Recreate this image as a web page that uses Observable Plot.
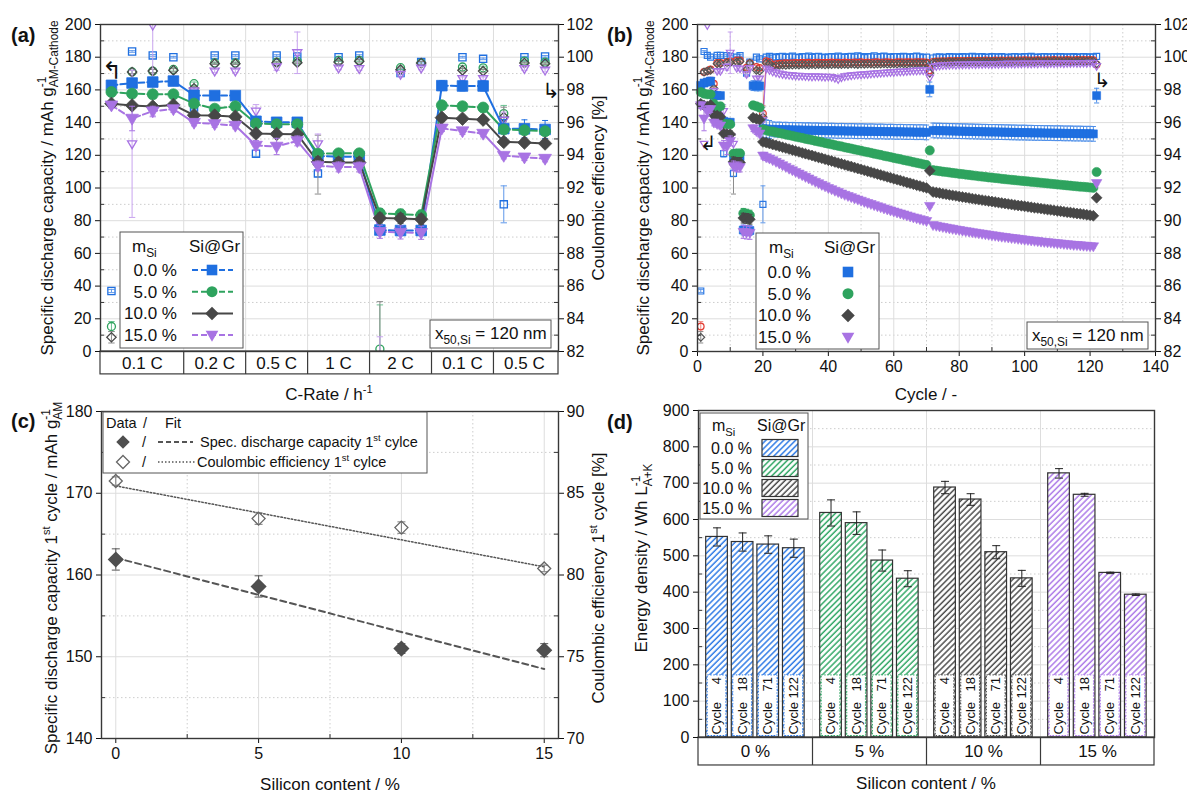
<!DOCTYPE html>
<html><head><meta charset="utf-8">
<script src="https://cdn.jsdelivr.net/npm/d3@7"></script>
<script src="https://cdn.jsdelivr.net/npm/@observablehq/plot@0.6"></script>
<style>
html,body{margin:0;padding:0;background:#fff;overflow:hidden;}
#fig{position:relative;width:1187px;height:794px;overflow:hidden;background:#fff;}
#fig svg{position:absolute;max-width:none;}
</style></head><body><div id="fig"></div>
<script>
// ================= DATA =================
const seriesNames = ["0.0 %", "5.0 %", "10.0 %", "15.0 %"];
const rateLabels = ["0.1 C", "0.2 C", "0.5 C", "1 C", "2 C", "0.1 C", "0.5 C"];
const rateGroupSizes = [4, 3, 3, 3, 3, 3, 3];

// specific discharge capacity (mAh/g), cycles 1..122 (10 per row)
const cap00 = [
  162.8, 164.2, 164.8, 165.4, 156.7, 156.5, 156.5, 140.8, 140.2, 140.2,
  119.5, 119.2, 119.0, 74.3, 74.0, 74.0, 162.6, 162.4, 162.4, 136.3,
  136.2, 135.8, 135.9, 135.7, 135.8, 135.6, 135.7, 135.5, 135.6, 135.4,
  135.5, 135.4, 135.3, 135.4, 135.2, 135.3, 135.2, 135.1, 135.2, 135.0,
  135.1, 135.0, 134.9, 135.0, 134.9, 134.8, 134.9, 134.8, 134.7, 134.8,
  134.7, 134.6, 134.7, 134.6, 134.5, 134.6, 134.5, 134.4, 134.5, 134.4,
  134.3, 134.4, 134.3, 134.2, 134.3, 134.2, 134.1, 134.2, 134.1, 134.0,
  160.3, 135.2, 135.1, 135.1, 135.0, 135.0, 134.9, 134.9, 134.8, 134.8,
  134.7, 134.7, 134.6, 134.6, 134.5, 134.5, 134.4, 134.4, 134.3, 134.3,
  134.3, 134.2, 134.2, 134.1, 134.1, 134.0, 134.0, 133.9, 133.9, 133.9,
  133.8, 133.8, 133.7, 133.7, 133.7, 133.6, 133.6, 133.6, 133.5, 133.5,
  133.5, 133.4, 133.4, 133.4, 133.3, 133.3, 133.3, 133.2, 133.2, 133.2,
  133.1, 156.5];
const cap05 = [
  158.7, 157.7, 157.3, 157.3, 151.6, 148.5, 150.0, 139.4, 139.0, 139.0,
  121.0, 121.2, 121.2, 84.5, 84.0, 83.4, 150.6, 150.0, 149.2, 135.8,
  135.3, 134.7, 134.5, 134.0, 133.6, 133.2, 132.7, 132.3, 131.9, 131.4,
  131.0, 130.6, 130.1, 129.7, 129.3, 128.8, 128.4, 128.0, 127.5, 127.1,
  126.7, 126.2, 125.8, 125.4, 124.9, 124.5, 124.1, 123.6, 123.2, 122.8,
  122.3, 121.9, 121.5, 121.0, 120.6, 120.2, 119.7, 119.3, 118.9, 118.4,
  118.0, 117.6, 117.1, 116.7, 116.3, 115.8, 115.4, 115.0, 114.5, 114.1,
  123.0, 110.9, 110.6, 110.3, 110.0, 109.8, 109.5, 109.2, 109.0, 108.7,
  108.5, 108.2, 108.0, 107.7, 107.5, 107.2, 107.0, 106.8, 106.5, 106.3,
  106.1, 105.9, 105.6, 105.4, 105.2, 105.0, 104.8, 104.6, 104.4, 104.2,
  104.0, 103.8, 103.6, 103.4, 103.2, 103.0, 102.8, 102.6, 102.4, 102.2,
  102.0, 101.8, 101.6, 101.4, 101.2, 101.0, 100.8, 100.7, 100.5, 100.3,
  100.1, 109.8];
const cap10 = [
  151.5, 150.5, 149.8, 150.8, 144.5, 144.3, 143.6, 133.3, 133.0, 132.9,
  116.0, 115.6, 115.6, 81.6, 81.4, 80.9, 143.0, 142.4, 141.8, 128.2,
  127.8, 127.2, 126.6, 126.1, 125.5, 124.9, 124.4, 123.8, 123.2, 122.7,
  122.1, 121.5, 121.0, 120.4, 119.9, 119.3, 118.7, 118.2, 117.6, 117.0,
  116.5, 115.9, 115.3, 114.8, 114.2, 113.6, 113.1, 112.5, 111.9, 111.4,
  110.8, 110.2, 109.7, 109.1, 108.5, 108.0, 107.4, 106.8, 106.3, 105.7,
  105.1, 104.6, 104.0, 103.4, 102.9, 102.3, 101.7, 101.2, 100.6, 100.1,
  110.5, 97.6, 97.2, 96.9, 96.5, 96.2, 95.8, 95.5, 95.2, 94.8,
  94.5, 94.2, 93.9, 93.5, 93.2, 92.9, 92.6, 92.3, 92.0, 91.7,
  91.4, 91.1, 90.8, 90.5, 90.2, 89.9, 89.6, 89.3, 89.1, 88.8,
  88.5, 88.2, 87.9, 87.7, 87.4, 87.1, 86.8, 86.6, 86.3, 86.0,
  85.8, 85.5, 85.2, 85.0, 84.7, 84.4, 84.2, 83.9, 83.6, 83.3,
  83.0, 94.0];
const cap15 = [
  150.6, 142.5, 147.0, 148.3, 140.0, 139.2, 138.2, 126.0, 125.4, 128.8,
  113.5, 112.9, 112.8, 73.2, 72.8, 72.6, 136.5, 134.8, 133.3, 119.8,
  118.8, 118.0, 117.0, 116.0, 115.0, 113.9, 112.9, 111.8, 110.8, 109.8,
  108.8, 107.8, 106.8, 105.8, 104.8, 103.8, 102.9, 101.9, 101.0, 100.0,
  99.2, 98.3, 97.5, 96.6, 95.8, 95.1, 94.4, 93.6, 92.9, 92.2,
  91.5, 90.8, 90.2, 89.5, 88.8, 88.2, 87.5, 86.9, 86.2, 85.6,
  85.0, 84.4, 83.8, 83.2, 82.6, 82.0, 81.5, 80.9, 80.4, 79.8,
  89.0, 77.3, 76.9, 76.5, 76.1, 75.7, 75.3, 75.0, 74.6, 74.3,
  73.9, 73.6, 73.3, 72.9, 72.6, 72.3, 72.0, 71.7, 71.4, 71.1,
  70.8, 70.5, 70.2, 70.0, 69.7, 69.4, 69.2, 68.9, 68.7, 68.4,
  68.2, 67.9, 67.7, 67.5, 67.2, 67.0, 66.8, 66.6, 66.4, 66.2,
  66.0, 65.8, 65.6, 65.4, 65.2, 65.1, 64.9, 64.7, 64.6, 64.4,
  64.3, 103.0];

// Coulombic efficiency (%), cycles 1..122 (null = not shown)
const ce00 = [
  85.7, 100.35, 100.11, 100.0, 96.92, 100.11, 100.11, 94.1, 100.1, 100.05,
  92.89, 100.0, 100.1, null, 99.03, 99.7, null, 100.0, 99.9, 91.0,
  100.0, 100.05, 100.02, 99.98, 100.03, 100.05, 99.99, 100.02, 100.06, 100.01,
  99.98, 100.04, 100.02, 100.07, 99.99, 100.03, 100.05, 100.01, 99.97, 100.02,
  100.04, 100.0, 100.06, 100.02, 99.99, 100.03, 100.05, 100.01, 100.08, 100.03,
  99.98, 100.04, 100.02, 100.09, 100.01, 100.03, 100.06, 100.02, 99.99, 100.04,
  100.03, 100.01, 100.05, 100.02, 100.0, 100.04, 100.06, 100.02, 99.98, 100.01,
  99.45, 99.95, 100.0, 100.02, 99.98, 100.01, 100.03, 100.0, 100.02, 99.99,
  100.04, 100.01, 100.02, 100.05, 100.0, 100.02, 100.03, 99.99, 100.01, 100.04,
  100.02, 100.0, 100.03, 100.01, 99.98, 100.02, 100.04, 100.01, 100.0, 100.03,
  100.02, 100.05, 100.01, 99.99, 100.02, 100.03, 100.0, 100.02, 100.04, 100.01,
  100.03, 100.0, 100.02, 100.01, 100.03, 99.99, 100.02, 100.04, 100.01, 100.02,
  100.0, 100.05];
const ce05 = [
  83.53, 99.1, 99.15, 99.25, 98.38, 99.65, 99.65, 96.05, 99.7, 99.75,
  94.0, 99.8, 99.8, 82.15, 99.36, 99.64, null, 99.4, 99.35, 96.55,
  99.76, 99.7, 99.52, 99.58, 99.6, 99.62, 99.63, 99.62, 99.64, 99.65,
  99.63, 99.66, 99.65, 99.66, 99.64, 99.67, 99.66, 99.65, 99.67, 99.66,
  99.68, 99.66, 99.67, 99.65, 99.68, 99.67, 99.66, 99.68, 99.67, 99.69,
  99.67, 99.68, 99.66, 99.68, 99.69, 99.67, 99.68, 99.7, 99.68, 99.67,
  99.69, 99.7, 99.68, 99.69, 99.7, 99.68, 99.7, 99.69, 99.7, 99.68,
  99.2, 99.72, 99.74, 99.75, 99.76, 99.75, 99.77, 99.76, 99.78, 99.77,
  99.78, 99.77, 99.79, 99.78, 99.77, 99.79, 99.78, 99.8, 99.79, 99.78,
  99.8, 99.79, 99.8, 99.79, 99.81, 99.8, 99.79, 99.81, 99.8, 99.82,
  99.8, 99.81, 99.8, 99.82, 99.81, 99.8, 99.82, 99.81, 99.83, 99.81,
  99.82, 99.81, 99.83, 99.82, 99.81, 99.83, 99.82, 99.84, 99.82, 99.83,
  99.82, 99.55];
const ce10 = [
  82.87, 99.09, 99.15, 99.2, 98.1, 99.6, 99.6, 95.9, 99.66, 99.66,
  93.43, 99.7, 99.75, 81.5, 99.24, 99.64, null, 99.2, 99.15, 96.34,
  99.64, 99.6, 99.42, 99.48, 99.5, 99.52, 99.51, 99.53, 99.52, 99.54,
  99.53, 99.55, 99.54, 99.53, 99.55, 99.54, 99.56, 99.55, 99.54, 99.56,
  99.55, 99.57, 99.56, 99.55, 99.57, 99.56, 99.58, 99.57, 99.56, 99.58,
  99.57, 99.59, 99.58, 99.57, 99.59, 99.58, 99.6, 99.59, 99.58, 99.6,
  99.59, 99.61, 99.6, 99.59, 99.61, 99.6, 99.62, 99.61, 99.6, 99.62,
  99.03, 99.66, 99.68, 99.69, 99.7, 99.69, 99.71, 99.7, 99.72, 99.71,
  99.7, 99.72, 99.71, 99.73, 99.72, 99.71, 99.73, 99.72, 99.74, 99.73,
  99.72, 99.74, 99.73, 99.72, 99.74, 99.73, 99.75, 99.74, 99.73, 99.75,
  99.74, 99.75, 99.74, 99.76, 99.75, 99.74, 99.76, 99.75, 99.77, 99.76,
  99.75, 99.77, 99.76, 99.75, 99.77, 99.76, 99.78, 99.77, 99.76, 99.78,
  99.77, 99.6];
const ce15 = [
  80.4, 94.7, 101.95, 98.58, 97.93, 99.15, 99.15, 96.7, 99.4, 100.27,
  94.7, 99.33, 99.3, 81.0, 98.95, 99.33, null, 98.69, 98.69, 96.14,
  99.3, 99.2, 99.1, 99.05, 99.0, 98.95, 98.92, 98.9, 98.88, 98.86,
  98.85, 98.84, 98.83, 98.82, 98.8, 98.82, 98.81, 98.8, 98.79, 98.8,
  98.78, 98.72, 98.65, 98.75, 98.82, 98.85, 98.88, 98.9, 98.92, 98.93,
  98.95, 98.96, 98.98, 99.0, 99.01, 99.03, 99.04, 99.06, 99.07, 99.08,
  99.1, 99.11, 99.12, 99.13, 99.15, 99.16, 99.17, 99.18, 99.19, 99.2,
  98.75, 99.4, 99.45, 99.48, 99.5, 99.51, 99.52, 99.53, 99.52, 99.54,
  99.53, 99.55, 99.54, 99.56, 99.55, 99.57, 99.56, 99.58, 99.57, 99.56,
  99.58, 99.57, 99.59, 99.58, 99.6, 99.59, 99.58, 99.6, 99.59, 99.61,
  99.6, 99.59, 99.61, 99.6, 99.62, 99.61, 99.6, 99.62, 99.61, 99.63,
  99.62, 99.61, 99.63, 99.62, 99.64, 99.63, 99.62, 99.64, 99.63, 99.65,
  99.64, 99.45];

// error bars of the rate test (cycles 1..22)
const capErr00 = [1.5, 2, 2, 2, 2, 1.5, 1.5, 2, 2, 2, 2, 2, 2, 3, 3, 3, 3, 3, 3, 5.5, 5.5, 5.5];
const capErr05 = [1.5, 1.5, 1.5, 1.5, 2, 2, 2, 2, 2, 2, 2, 2, 2, 3, 3, 3, 2, 2, 2, 2, 2, 2];
const capErr10 = [1.5, 1.5, 1.5, 1.5, 2, 2, 2, 2, 2, 2, 3, 3, 3, 3, 3, 3, 2, 2, 2, 2, 2, 2];
const capErr15 = [2, 7.5, 3, 2, 2, 2, 2, 3, 5, 3, 3, 3, 3, 4, 4, 4, 2, 2, 2, 2, 2, 2];
const capErrLong = [4.5, 1, 1, 1]; // cycles 23..122
const ceErr00 = [0.1, 0.05, 0.05, 0.05, 0.1, 0.05, 0.05, 0.2, 0.05, 0.05, 0.2, 0.05, 0.05, 0, 0.1, 0.05, 0, 0.05, 0.05, 1.13, 0.05, 0.05];
const ceErr05 = [0.3, 0.1, 0.1, 0.1, 0.1, 0.05, 0.05, 0.2, 0.05, 0.05, 0.2, 0.05, 0.05, 2.7, 0.1, 0.1, 0, 0.1, 0.1, 0.5, 0.05, 0.05];
const ceErr10 = [0.35, 0.1, 0.1, 0.1, 0.1, 0.05, 0.05, 0.2, 0.05, 0.05, 1.8, 0.1, 0.1, 3.55, 0.1, 0.1, 0, 0.1, 0.1, 0.6, 0.05, 0.05];
const ceErr15 = [0.3, 4.5, 5.6, 0.2, 0.1, 0.1, 0.1, 0.4, 0.2, 1.27, 0.6, 0.1, 0.1, 1.9, 0.15, 0.1, 0, 0.1, 0.1, 0.5, 0.1, 0.1];

// panel (c): first cycle
const siContent = [0, 5, 10, 15];
const cap1st = [161.9, 158.6, 151.0, 150.8];
const cap1stErr = [1.3, 1.3, 0.6, 0.8];
const ce1st = [85.75, 83.45, 82.9, 80.4];
const ce1stErr = [0.25, 0.35, 0.35, 0.2];
const fitX = [0, 15];
const fitCap = [162.1, 148.5];
const fitCE = [85.45, 80.5];

// panel (d): energy density
const energyGroups = ["0 %", "5 %", "10 %", "15 %"];
const energyCycles = [4, 18, 71, 122];
const energy = [[552, 538, 531, 521], [618, 590, 487, 437], [688, 655, 510, 438], [727, 668, 453, 393]];
const energyErr = [[25, 25, 24, 25], [36, 31, 29, 22], [17, 16, 18, 22], [13, 4, 2, 2]];

// ================= STYLE =================
const FONT = "'Liberation Sans', Arial, Helvetica, sans-serif";
const colS = ["#1f6fe0", "#2ea35e", "#474747", "#a873e3"];
const colErr = ["#5f98ea", "#6cc293", "#8c8c8c", "#c8a4ef"];
const colCEb = ["#2b78e4", "#e3392f", "#555555", "#a873e3"];
const hatchCol = ["#2f7be6", "#33a867", "#4d4d4d", "#ad7be8"];
const lineDash = ["6,3", "6,3", null, "6,3"];

const symSquare = {draw(c, s) { const r = Math.sqrt(s / Math.PI); c.rect(-r, -r, 2 * r, 2 * r); }};
const symCircle = {draw(c, s) { const r = Math.sqrt(s / Math.PI); c.moveTo(r, 0); c.arc(0, 0, r, 0, 2 * Math.PI); }};
const symDiamond = {draw(c, s) { const r = Math.sqrt(s / Math.PI) * 1.3; c.moveTo(0, -r); c.lineTo(r, 0); c.lineTo(0, r); c.lineTo(-r, 0); c.closePath(); }};
const symTriDown = {draw(c, s) { const r = Math.sqrt(s / Math.PI); c.moveTo(-1.2 * r, -0.8 * r); c.lineTo(1.2 * r, -0.8 * r); c.lineTo(0, 1.25 * r); c.closePath(); }};
const symCap = {draw(c, s) { const r = Math.sqrt(s / Math.PI); c.moveTo(-r, 0); c.lineTo(r, 0); }};
const syms = [symSquare, symCircle, symDiamond, symTriDown];
const fillRA = [5.3, 5.5, 5.2, 5.3], openRA = [3.6, 4.0, 3.6, 3.8];
const fillRB = [4.0, 4.6, 4.2, 4.4], openRB = [3.0, 3.3, 3.0, 3.2];

// ================= ROWS =================
const capSeries = [cap00, cap05, cap10, cap15];
const ceSeries = [ce00, ce05, ce10, ce15];
const capErrRate = [capErr00, capErr05, capErr10, capErr15];
const ceErrRate = [ceErr00, ceErr05, ceErr10, ceErr15];
const RATE_CYCLES = d3.sum(rateGroupSizes);
const rows = [];
capSeries.forEach((arr, s) => arr.forEach((v, i) => rows.push({
  s, cycle: i + 1, cap: v,
  capErr: i < RATE_CYCLES ? capErrRate[s][i] : capErrLong[s],
  ce: ceSeries[s][i],
  ceErr: i < RATE_CYCLES ? ceErrRate[s][i] : 0
})));
const groupStart = [];
{ let acc = 1; rateGroupSizes.forEach(n => { groupStart.push(acc); acc += n; }); }
const groupOf = c => { let g = 0; groupStart.forEach((st, k) => { if (c >= st) g = k; }); return g; };

// ================= HELPERS =================
const fig = document.getElementById("fig");
const baseStyle = {fontFamily: FONT, fontSize: "16px", background: "transparent", color: "#111"};
function errBars(data, x, lo, hi, stroke, capR, clip = false) {
  return [
    Plot.ruleX(data, {x, y1: lo, y2: hi, stroke, strokeWidth: 1, clip}),
    Plot.dot(data, {x, y: lo, symbol: symCap, r: capR, stroke, fill: "none", strokeWidth: 1, clip}),
    Plot.dot(data, {x, y: hi, symbol: symCap, r: capR, stroke, fill: "none", strokeWidth: 1, clip})
  ];
}
function place(svg, left, top) { svg.style.left = left + "px"; svg.style.top = top + "px"; fig.appendChild(svg); return d3.select(svg); }
function richText(sel, {x, y, rotate = 0, anchor = "start", size = 17, weight = "normal", parts, fill = "#111", family = FONT}) {
  const t = sel.append("text")
    .attr("transform", `translate(${x},${y})` + (rotate ? ` rotate(${rotate})` : ""))
    .attr("text-anchor", anchor).attr("font-size", size).attr("font-weight", weight)
    .attr("font-family", family).attr("fill", fill);
  let cur = 0;
  for (const p of parts) {
    if (typeof p === "string") { t.append("tspan").attr("dy", -cur).text(p); cur = 0; }
    else if (p.sup && p.sub) {
      const sp = t.append("tspan").attr("font-size", size * 0.7).attr("dy", -size * 0.42 - cur).text(p.sup);
      const w = sp.node().getComputedTextLength();
      t.append("tspan").attr("font-size", size * 0.7).attr("dx", -w).attr("dy", size * 0.74).text(p.sub);
      cur = size * 0.32;
    } else if (p.sup) { t.append("tspan").attr("font-size", size * 0.65).attr("dy", -size * 0.42 - cur).text(p.sup); cur = -size * 0.42; }
    else if (p.sub) { t.append("tspan").attr("font-size", size * 0.7).attr("dy", size * 0.3 - cur).text(p.sub); cur = size * 0.3; }
  }
  return t;
}
function symPath(sym, r) { const p = d3.path(); sym.draw(p, Math.PI * r * r); return p.toString(); }
const grid = (vals, dir, dotted) => (dir === "y" ? Plot.ruleY : Plot.ruleX)(vals, dotted ? {stroke: "#cdcdcd", strokeDasharray: "1.5,2.5"} : {stroke: "#dddddd"});

// hatch patterns
const defsSvg = d3.select(fig).append("svg").attr("width", 0).attr("height", 0).style("left", "0px").style("top", "0px");
const pats = defsSvg.append("defs").selectAll("pattern").data(hatchCol).join("pattern")
  .attr("id", (d, i) => `hatch-${i}`).attr("patternUnits", "userSpaceOnUse")
  .attr("width", 4.2).attr("height", 4.2).attr("patternTransform", "rotate(45)");
pats.append("rect").attr("width", 4.2).attr("height", 4.2).attr("fill", "white");
pats.append("line").attr("x1", 1).attr("y1", -1).attr("x2", 1).attr("y2", 5.2).attr("stroke", d => d).attr("stroke-width", 1.5);

// ================= PANEL (a) =================
{
  const W = 620, H = 410, ML = 100, MR = 62, MT = 24, MB = 59;
  const FW = W - ML - MR;
  const xDom = [0.47, 22.65];
  const ceY = v => (v - 82) * 10;
  const rA = rows.filter(d => d.cycle <= RATE_CYCLES);
  const groups = rateLabels.map((label, k) => ({label, lo: groupStart[k] - 0.5, hi: groupStart[k] + rateGroupSizes[k] - 0.5}));
  const bounds = groups.slice(1).map(g => g.lo);
  const marks = [grid(d3.range(10, 200, 20), "y", true), grid(d3.range(20, 200, 20), "y"), grid(bounds, "x")];
  for (let s = 0; s < 4; s++) {
    const d = rA.filter(r => r.s === s && r.ce != null);
    marks.push(...errBars(d.filter(r => r.ceErr > 0), "cycle", r => ceY(r.ce - r.ceErr), r => ceY(r.ce + r.ceErr), colErr[s], 3.2, true));
    marks.push(Plot.dot(d, {x: "cycle", y: r => ceY(r.ce), symbol: syms[s], r: openRA[s], stroke: colS[s], strokeWidth: 1.3, fill: "none", clip: true}));
  }
  for (let s = 0; s < 4; s++) {
    const d = rA.filter(r => r.s === s);
    if (lineDash[s]) {
      const trans = [];
      for (let i = 1; i < d.length; i++) if (groupOf(d[i].cycle) !== groupOf(d[i - 1].cycle))
        trans.push({x1: d[i - 1].cycle, y1: d[i - 1].cap, x2: d[i].cycle, y2: d[i].cap});
      marks.push(Plot.line(d, {x: "cycle", y: "cap", z: r => groupOf(r.cycle), stroke: colS[s], strokeWidth: 2, strokeDasharray: lineDash[s]}));
      marks.push(Plot.link(trans, {x1: "x1", y1: "y1", x2: "x2", y2: "y2", stroke: colS[s], strokeWidth: 2}));
    } else marks.push(Plot.line(d, {x: "cycle", y: "cap", stroke: colS[s], strokeWidth: 2}));
  }
  for (let s = 0; s < 4; s++) {
    const d = rA.filter(r => r.s === s);
    marks.push(...errBars(d, "cycle", r => r.cap - r.capErr, r => r.cap + r.capErr, colS[s], 3));
    marks.push(Plot.dot(d, {x: "cycle", y: "cap", symbol: syms[s], r: fillRA[s], fill: colS[s], stroke: colS[s], strokeWidth: 0.8}));
  }
  marks.push(
    Plot.rect([xDom], {x1: d => d[0], x2: d => d[1], y1: 0, y2: -14, fill: "none", stroke: "#3a3a3a", strokeWidth: 1.2}),
    Plot.ruleX(bounds, {y1: 0, y2: -14, stroke: "#3a3a3a", strokeWidth: 1.2}),
    Plot.text(groups, {x: g => (Math.max(g.lo, xDom[0]) + Math.min(g.hi, xDom[1])) / 2, y: -7.2, text: "label", fontSize: 17, fill: "#111"}),
    Plot.axisY(d3.range(0, 201, 20), {anchor: "left", tickSize: 5, tickPadding: 4, label: null, fontSize: 16}),
    Plot.axisY(d3.range(0, 201, 20), {anchor: "right", tickSize: 5, tickPadding: 3, label: null, fontSize: 16, tickFormat: d => String(d / 10 + 82)}),
    Plot.tickY(d3.range(10, 200, 20), {y: d => d, insetRight: FW - 4, stroke: "#333"}),
    Plot.tickY(d3.range(10, 200, 20), {y: d => d, insetLeft: FW - 4, stroke: "#333"}),
    Plot.frame({stroke: "#383838", strokeWidth: 1.4})
  );
  const svg = Plot.plot({width: W, height: H, marginLeft: ML, marginRight: MR, marginTop: MT, marginBottom: MB,
    x: {domain: xDom, axis: null}, y: {domain: [0, 200], axis: null}, style: baseStyle, marks});
  const S = place(svg, 0, 0);
  richText(S, {x: 11, y: 42, size: 20, weight: "bold", parts: ["(a)"]});
  richText(S, {x: 53, y: 188, rotate: -90, anchor: "middle", parts: ["Specific discharge capacity / mAh g", {sup: "-1", sub: "AM-Cathode"}]});
  richText(S, {x: 604, y: 188, rotate: -90, anchor: "middle", parts: ["Coulombic efficiency [%]"]});
  richText(S, {x: 329, y: 400, anchor: "middle", parts: ["C-Rate / h", {sup: "-1"}]});
  // legend
  const g = S.append("g");
  g.append("rect").attr("x", 120).attr("y", 232).attr("width", 123).attr("height", 116).attr("fill", "white").attr("stroke", "#555");
  richText(g, {x: 132, y: 252, parts: ["m", {sub: "Si"}]});
  richText(g, {x: 189, y: 252, parts: ["Si@Gr"]});
  seriesNames.forEach((name, s) => {
    const cy = 270 + s * 21.7;
    richText(g, {x: 177, y: cy + 6, anchor: "end", parts: [name]});
    g.append("line").attr("x1", 192).attr("x2", 233).attr("y1", cy).attr("y2", cy).attr("stroke", colS[s]).attr("stroke-width", 2).attr("stroke-dasharray", lineDash[s] || null);
    g.append("path").attr("d", symPath(syms[s], fillRA[s])).attr("transform", `translate(212,${cy})`).attr("fill", colS[s]);
  });
  S.append("rect").attr("x", 430).attr("y", 320).attr("width", 121).attr("height", 28).attr("fill", "white").attr("stroke", "#555");
  richText(S, {x: 435, y: 339, parts: ["x", {sub: "50,Si"}, " = 120 nm"]});
  richText(S, {x: 112, y: 79, anchor: "middle", size: 24, family: "DejaVu Sans", parts: ["\u21B0"]});
  richText(S, {x: 551, y: 98, anchor: "middle", size: 21, family: "DejaVu Sans", parts: ["\u21B3"]});
}

// ================= PANEL (b) =================
{
  const W = 597, H = 410, ML = 107, MR = 32, MT = 24, MB = 59;
  const FW = W - ML - MR, FH = H - MT - MB;
  const ceY = v => (v - 82) * 10;
  const marks = [grid(d3.range(10, 200, 20), "y", true), grid(d3.range(20, 200, 20), "y"),
    grid(d3.range(10, 140, 20), "x", true), grid(d3.range(20, 140, 20), "x")];
  for (const s of [1, 3]) {
    const d = rows.filter(r => r.s === s && r.cycle >= 20);
    marks.push(Plot.line(d, {x: "cycle", y: r => ceY(r.ce), stroke: colCEb[s], strokeWidth: 1, clip: true}));
  }
  for (let s = 0; s < 4; s++) {
    const d = rows.filter(r => r.s === s && r.ce != null && r.ce >= 82.5);
    marks.push(...errBars(d.filter(r => r.ceErr > 0 && r.ceErr < 3), "cycle", r => ceY(r.ce - r.ceErr), r => ceY(r.ce + r.ceErr), s === 1 ? "#ee8a84" : colErr[s], 2.5, true));
    marks.push(Plot.dot(d, {x: "cycle", y: r => ceY(r.ce), symbol: syms[s], r: openRB[s], stroke: colCEb[s], strokeWidth: 1.2, fill: "none", clip: true}));
  }
  for (let s = 0; s < 4; s++) {
    const d = rows.filter(r => r.s === s);
    marks.push(...errBars(d, "cycle", r => r.cap - r.capErr, r => r.cap + r.capErr, s === 0 ? "#4d8ee8" : colS[s], 2.6));
    marks.push(Plot.dot(d, {x: "cycle", y: "cap", symbol: syms[s], r: fillRB[s], fill: colS[s], stroke: colS[s], strokeWidth: 0.6}));
  }
  marks.push(
    Plot.axisY(d3.range(0, 201, 20), {anchor: "left", tickSize: 5, tickPadding: 4, label: null, fontSize: 16}),
    Plot.axisY(d3.range(0, 201, 20), {anchor: "right", tickSize: 5, tickPadding: 3, label: null, fontSize: 16, tickFormat: d => String(d / 10 + 82)}),
    Plot.axisX(d3.range(0, 141, 20), {anchor: "bottom", tickSize: 5, tickPadding: 4, label: null, fontSize: 16}),
    Plot.tickY(d3.range(10, 200, 20), {y: d => d, insetRight: FW - 4, stroke: "#333"}),
    Plot.tickY(d3.range(10, 200, 20), {y: d => d, insetLeft: FW - 4, stroke: "#333"}),
    Plot.tickX(d3.range(10, 140, 20), {x: d => d, insetTop: FH - 4, stroke: "#333"}),
    Plot.frame({stroke: "#383838", strokeWidth: 1.4})
  );
  const svg = Plot.plot({width: W, height: H, marginLeft: ML, marginRight: MR, marginTop: MT, marginBottom: MB,
    x: {domain: [0, 140], axis: null}, y: {domain: [0, 200], axis: null}, style: baseStyle, marks});
  const S = place(svg, 590, 0);
  richText(S, {x: 17, y: 42, size: 20, weight: "bold", parts: ["(b)"]});
  richText(S, {x: 59, y: 188, rotate: -90, anchor: "middle", parts: ["Specific discharge capacity / mAh g", {sup: "-1", sub: "AM-Cathode"}]});
  richText(S, {x: 336, y: 400, anchor: "middle", parts: ["Cycle / -"]});
  const g = S.append("g");
  g.append("rect").attr("x", 166).attr("y", 233).attr("width", 123).attr("height", 116).attr("fill", "white").attr("stroke", "#555");
  richText(g, {x: 179, y: 253, parts: ["m", {sub: "Si"}]});
  richText(g, {x: 234, y: 253, parts: ["Si@Gr"]});
  seriesNames.forEach((name, s) => {
    const cy = 272 + s * 21.7;
    richText(g, {x: 221, y: cy + 6, anchor: "end", parts: [name]});
    g.append("path").attr("d", symPath(syms[s], fillRA[s])).attr("transform", `translate(258,${cy})`).attr("fill", colS[s]);
  });
  S.append("rect").attr("x", 437).attr("y", 322).attr("width", 121).attr("height", 27).attr("fill", "white").attr("stroke", "#555");
  richText(S, {x: 442, y: 341, parts: ["x", {sub: "50,Si"}, " = 120 nm"]});
  richText(S, {x: 118, y: 150, anchor: "middle", size: 20, family: "DejaVu Sans", parts: ["\u21B2"]});
  richText(S, {x: 512, y: 87, anchor: "middle", size: 20, family: "DejaVu Sans", parts: ["\u21B3"]});
}

// ================= PANEL (c) =================
{
  const W = 620, H = 399, ML = 101, MR = 62, MT = 16, MB = 56;
  const FW = W - ML - MR, FH = H - MT - MB;
  const ceC = v => 140 + (v - 70) * 2;
  const cRows = siContent.map((x, i) => ({x, cap: cap1st[i], capErr: cap1stErr[i], ce: ce1st[i], ceErr: ce1stErr[i]}));
  const fitRows = fitX.map((x, i) => ({x, cap: fitCap[i], ce: fitCE[i]}));
  const marks = [
    grid([145, 155, 165, 175], "y", true), grid([150, 160, 170], "y"),
    grid([2.5, 7.5, 12.5], "x", true), grid([0, 5, 10, 15], "x"),
    Plot.line(fitRows, {x: "x", y: "cap", stroke: "#555", strokeWidth: 2, strokeDasharray: "6,4"}),
    Plot.line(fitRows, {x: "x", y: d => ceC(d.ce), stroke: "#555", strokeWidth: 1.5, strokeDasharray: "1.5,2"}),
    ...errBars(cRows, "x", d => ceC(d.ce - d.ceErr), d => ceC(d.ce + d.ceErr), "#7a7a7a", 4),
    Plot.dot(cRows, {x: "x", y: d => ceC(d.ce), symbol: symDiamond, r: 5, stroke: "#666", strokeWidth: 1.3, fill: "none"}),
    ...errBars(cRows, "x", d => d.cap - d.capErr, d => d.cap + d.capErr, "#555", 4),
    Plot.dot(cRows, {x: "x", y: "cap", symbol: symDiamond, r: 5.4, fill: "#4f4f4f", stroke: "#4f4f4f"}),
    Plot.axisY([140, 150, 160, 170, 180], {anchor: "left", tickSize: 5, tickPadding: 4, label: null, fontSize: 16}),
    Plot.axisY([140, 150, 160, 170, 180], {anchor: "right", tickSize: 5, tickPadding: 3, label: null, fontSize: 16, tickFormat: d => String(70 + (d - 140) / 2)}),
    Plot.axisX([0, 5, 10, 15], {anchor: "bottom", tickSize: 5, tickPadding: 4, label: null, fontSize: 16}),
    Plot.tickY([145, 155, 165, 175], {y: d => d, insetRight: FW - 4, stroke: "#333"}),
    Plot.tickY([145, 155, 165, 175], {y: d => d, insetLeft: FW - 4, stroke: "#333"}),
    Plot.tickX([2.5, 7.5, 12.5], {x: d => d, insetTop: FH - 4, stroke: "#333"}),
    Plot.frame({stroke: "#383838", strokeWidth: 1.4})
  ];
  const svg = Plot.plot({width: W, height: H, marginLeft: ML, marginRight: MR, marginTop: MT, marginBottom: MB,
    x: {domain: [-0.5, 15.5], axis: null}, y: {domain: [140, 180], axis: null}, style: baseStyle, marks});
  const S = place(svg, 0, 395);
  richText(S, {x: 11, y: 33, size: 20, weight: "bold", parts: ["(c)"]});
  richText(S, {x: 57, y: 183, rotate: -90, anchor: "middle", parts: ["Specific discharge capacity 1", {sup: "st"}, " cycle / mAh g", {sup: "-1", sub: "AM"}]});
  richText(S, {x: 604, y: 183, rotate: -90, anchor: "middle", parts: ["Coulombic efficiency 1", {sup: "st"}, " cycle [%]"]});
  richText(S, {x: 330, y: 395, anchor: "middle", parts: ["Silicon content / %"]});
  const g = S.append("g");
  g.append("rect").attr("x", 103).attr("y", 17).attr("width", 324).attr("height", 61).attr("fill", "white").attr("stroke", "#555");
  richText(g, {x: 106, y: 33, size: 14.5, parts: ["Data"]});
  richText(g, {x: 145, y: 33, size: 14.5, anchor: "middle", parts: ["/"]});
  richText(g, {x: 165, y: 33, size: 14.5, parts: ["Fit"]});
  g.append("path").attr("d", symPath(symDiamond, 5.2)).attr("transform", "translate(123,47)").attr("fill", "#4f4f4f");
  richText(g, {x: 144, y: 52, size: 14.5, anchor: "middle", parts: ["/"]});
  g.append("line").attr("x1", 158).attr("x2", 193).attr("y1", 47).attr("y2", 47).attr("stroke", "#555").attr("stroke-width", 2).attr("stroke-dasharray", "5,3");
  richText(g, {x: 200, y: 52, size: 14.5, parts: ["Spec. discharge capacity 1", {sup: "st"}, " cylce"]});
  g.append("path").attr("d", symPath(symDiamond, 5)).attr("transform", "translate(123,67)").attr("fill", "white").attr("stroke", "#666").attr("stroke-width", 1.3);
  richText(g, {x: 144, y: 72, size: 14.5, anchor: "middle", parts: ["/"]});
  g.append("line").attr("x1", 158).attr("x2", 196).attr("y1", 67).attr("y2", 67).attr("stroke", "#555").attr("stroke-width", 1.5).attr("stroke-dasharray", "1.5,2");
  richText(g, {x: 197, y: 72, size: 14.5, parts: ["Coulombic efficiency 1", {sup: "st"}, " cylce"]});
}

// ================= PANEL (d) =================
{
  const W = 597, H = 399, ML = 108, MR = 33, MT = 15, MB = 57;
  const FW = W - ML - MR;
  const LABEL_TOP = 175;
  const bars = [];
  energy.forEach((vals, g) => vals.forEach((v, j) => {
    const x1 = g + 0.0675 + j * 0.2245;
    bars.push({g, j, v, e: energyErr[g][j], cyc: energyCycles[j], x1, x2: x1 + 0.19, xc: x1 + 0.095});
  }));
  const marks = [grid(d3.range(50, 900, 100), "y", true), grid(d3.range(100, 900, 100), "y"), grid([1, 2, 3], "x")];
  for (let g = 0; g < 4; g++) {
    const b = bars.filter(d => d.g === g);
    marks.push(Plot.rect(b, {x1: "x1", x2: "x2", y1: 0, y2: "v", fill: `url(#hatch-${g})`, stroke: "#333", strokeWidth: 1.2}));
    marks.push(Plot.rect(b, {x1: "x1", x2: "x2", y1: 0, y2: LABEL_TOP, fill: "white", stroke: hatchCol[g], strokeWidth: 1, strokeDasharray: "1.5,1.5", inset: 1.5}));
  }
  marks.push(
    Plot.text(bars, {x: "xc", y: 0, text: () => "Cycle", rotate: -90, textAnchor: "start", dy: -3, fontSize: 13, fill: "#111"}),
    Plot.text(bars, {x: "xc", y: LABEL_TOP, text: d => String(d.cyc), rotate: -90, textAnchor: "end", dy: 3, fontSize: 13, fill: "#111"}),
    ...errBars(bars, "xc", d => d.v - d.e, d => d.v + d.e, "#222", 4),
    Plot.rect([[0, 4]], {x1: d => d[0], x2: d => d[1], y1: 0, y2: -77, fill: "none", stroke: "#3a3a3a", strokeWidth: 1.2}),
    Plot.ruleX([1, 2, 3], {y1: 0, y2: -77, stroke: "#3a3a3a", strokeWidth: 1.2}),
    Plot.text(energyGroups, {x: (d, i) => i + 0.5, y: -40, text: d => d, fontSize: 17, fill: "#111"}),
    Plot.axisY(d3.range(0, 901, 100), {anchor: "left", tickSize: 5, tickPadding: 4, label: null, fontSize: 16}),
    Plot.tickY(d3.range(50, 900, 100), {y: d => d, insetRight: FW - 4, stroke: "#333"}),
    Plot.frame({stroke: "#383838", strokeWidth: 1.4})
  );
  const svg = Plot.plot({width: W, height: H, marginLeft: ML, marginRight: MR, marginTop: MT, marginBottom: MB,
    x: {domain: [0, 4], axis: null}, y: {domain: [0, 900], axis: null}, style: baseStyle, marks});
  const S = place(svg, 590, 395);
  richText(S, {x: 17, y: 34, size: 20, weight: "bold", parts: ["(d)"]});
  richText(S, {x: 57, y: 163, rotate: -90, anchor: "middle", parts: ["Energy density / Wh L", {sup: "-1", sub: "A+K"}]});
  richText(S, {x: 336, y: 394, anchor: "middle", parts: ["Silicon content / %"]});
  const g = S.append("g");
  g.append("rect").attr("x", 110).attr("y", 18).attr("width", 108).attr("height", 106).attr("fill", "white").attr("stroke", "#555");
  richText(g, {x: 122, y: 36, size: 16, parts: ["m", {sub: "Si"}]});
  richText(g, {x: 167, y: 36, size: 16, parts: ["Si@Gr"]});
  seriesNames.forEach((name, s) => {
    const cy = 53 + s * 20;
    richText(g, {x: 162, y: cy + 6, size: 16, anchor: "end", parts: [name]});
    g.append("rect").attr("x", 172).attr("y", cy - 8.5).attr("width", 36).attr("height", 17).attr("fill", `url(#hatch-${s})`).attr("stroke", "#333").attr("stroke-width", 1.2);
  });
}
</script></body></html>
